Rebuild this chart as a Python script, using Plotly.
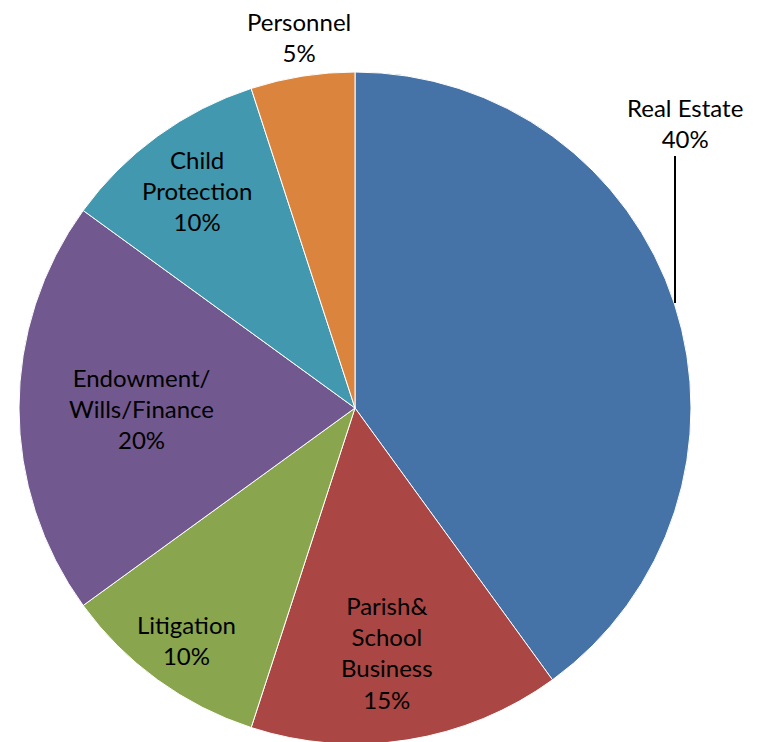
import math
import plotly.graph_objects as go

categories = ["Real Estate", "Parish&<br>School<br>Business", "Litigation",
              "Endowment/<br>Wills/Finance", "Child<br>Protection", "Personnel"]
values = [40, 15, 10, 20, 10, 5]
colors = ["#4572A7", "#AA4643", "#89A54E", "#71588F", "#4198AF", "#DB843D"]

FONT = "Lato"
FS = 24
W, H = 762, 742
OFF = 8  # page offset of the plot div inside the browser window

def px(x):
    return (x - OFF) / W

def py(y):
    return 1 - (y - OFF) / H

# pie geometry (screen pixels)
CX, CY, R = 355, 408, 336

fig = go.Figure(go.Pie(
    labels=categories,
    values=values,
    sort=False,
    direction="clockwise",
    rotation=0,
    marker=dict(colors=colors, line=dict(color="white", width=1)),
    textinfo="none",
    domain=dict(x=[px(CX - R), px(CX + R)], y=[py(CY + R), py(CY - R)]),
    hoverinfo="label+percent",
    showlegend=False,
))

total = sum(values)
# label placement: radial fraction along each slice's bisector (None = outside label)
label_r = [None, 0.735, 0.854, 0.634, 0.80, None]
label_shift = [0, 1.5, 0, 0, 0, 0]  # angular tweak in degrees

cum = 0
for cat, v, rf, sh in zip(categories, values, label_r, label_shift):
    mid = (cum + v / 2) / total * 360 + sh
    cum += v
    if rf is None:
        continue
    a = math.radians(mid)
    x = CX + rf * R * math.sin(a)
    y = CY - rf * R * math.cos(a)
    fig.add_annotation(x=px(x), y=py(y), xref="paper", yref="paper",
                       xanchor="center", yanchor="middle",
                       text=f"{cat}<br>{round(v / total * 100)}%", showarrow=False,
                       font=dict(family=FONT, size=FS, color="black"), align="center")

# outside labels
fig.add_annotation(x=px(685), y=py(123), xref="paper", yref="paper",
                   xanchor="center", yanchor="middle",
                   text=f"{categories[0]}<br>{round(values[0] / total * 100)}%", showarrow=False,
                   font=dict(family=FONT, size=FS, color="black"), align="center")
fig.add_annotation(x=px(299), y=py(37), xref="paper", yref="paper",
                   xanchor="center", yanchor="middle",
                   text=f"{categories[5]}<br>{round(values[5] / total * 100)}%", showarrow=False,
                   font=dict(family=FONT, size=FS, color="black"), align="center")
fig.add_shape(type="line", xref="paper", yref="paper",
              x0=px(675), x1=px(675), y0=py(156), y1=py(303),
              line=dict(color="black", width=2))

fig.update_layout(width=W, height=H, margin=dict(l=0, r=0, t=0, b=0),
                  paper_bgcolor="white", plot_bgcolor="white")
fig.write_html("out.html")
